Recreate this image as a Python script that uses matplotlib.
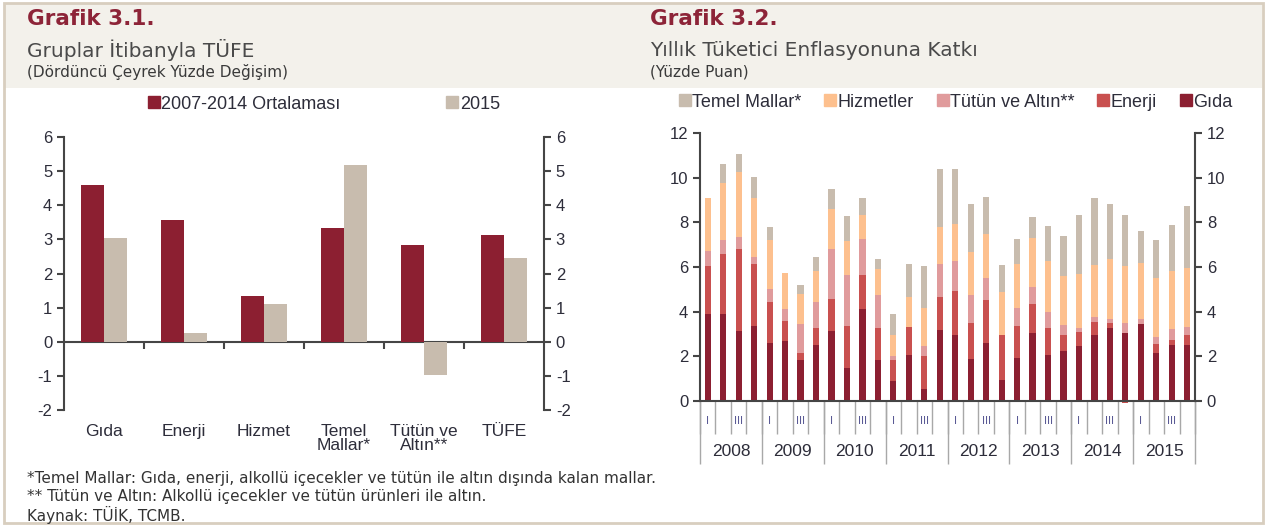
import numpy as np
import matplotlib.pyplot as plt
from matplotlib.patches import Rectangle
from matplotlib.lines import Line2D

plt.rcParams['font.family'] = ['Liberation Sans', 'DejaVu Sans']
plt.rcParams['axes.unicode_minus'] = False

# ---- Grafik 3.1 data
groups = ['Gıda', 'Enerji', 'Hizmet', 'Temel\nMallar*', 'Tütün ve\nAltın**', 'TÜFE']
avg_0714 = [4.58, 3.58, 1.34, 3.34, 2.84, 3.14]
y2015 = [3.04, 0.26, 1.12, 5.18, -0.97, 2.45]

# ---- Grafik 3.2 data (quarterly, 2008Q1 - 2015Q4)
years = ['2008', '2009', '2010', '2011', '2012', '2013', '2014', '2015']
quarters = ['I', '', 'III', '']
gida = [3.88, 3.91, 3.12, 3.36, 2.60, 2.67, 1.85, 2.52,
        3.12, 1.49, 4.10, 1.85, 0.90, 2.07, 0.52, 3.19,
        2.97, 1.90, 2.60, 0.93, 1.93, 3.04, 2.07, 2.24,
        2.45, 2.97, 3.28, 3.06, 3.46, 2.16, 2.52, 2.52]
enerji = [2.16, 2.66, 3.67, 2.76, 1.83, 0.91, 0.31, 0.75,
          1.46, 1.85, 1.56, 1.42, 0.95, 1.24, 1.48, 1.47,
          1.94, 1.59, 1.91, 2.04, 1.41, 1.32, 1.20, 0.73,
          0.64, 0.57, 0.21, -0.10, 0.00, 0.38, 0.23, 0.45]
tutun = [0.66, 0.62, 0.54, 0.31, 0.60, 0.52, 1.30, 1.16,
         2.21, 2.32, 1.58, 1.46, 0.15, 0.00, 0.45, 1.49,
         1.36, 1.24, 1.01, 0.00, 0.84, 0.74, 0.70, 0.45,
         0.19, 0.22, 0.17, 0.43, 0.20, 0.33, 0.46, 0.34]
hizmet = [2.40, 2.57, 2.92, 2.67, 2.16, 1.65, 1.35, 1.38,
          1.82, 1.49, 1.07, 1.17, 0.94, 1.35, 1.73, 1.64,
          1.67, 1.94, 1.97, 1.91, 1.97, 2.21, 2.30, 2.18,
          2.39, 2.34, 2.68, 2.55, 2.52, 2.64, 2.61, 2.66]
temel = [0.00, 0.84, 0.82, 0.93, 0.60, 0.00, 0.37, 0.64,
         0.87, 1.12, 0.79, 0.44, 0.97, 1.49, 1.86, 2.61,
         2.46, 2.17, 1.64, 1.19, 1.09, 0.93, 1.55, 1.77,
         2.67, 3.00, 2.47, 2.30, 1.43, 1.68, 2.08, 2.76]

c_dark = '#8c1f31'
c_tan = '#c8bcae'
c_en = '#c9504f'
c_tut = '#e09b9c'
c_hiz = '#fdc08e'
txt = '#2d2d3a'
axcol = '#454545'

fig = plt.figure(figsize=(12.67, 5.26), dpi=100)
fig.patch.set_facecolor('white')

# frame and header band
fig.patches.append(Rectangle((0.004, 0.832), 0.992, 0.162, transform=fig.transFigure,
                             facecolor='#f3f1eb', edgecolor='none', zorder=0))
fig.patches.append(Rectangle((0.003, 0.006), 0.994, 0.988, transform=fig.transFigure,
                             facecolor='none', edgecolor='#d8cebf', linewidth=2, zorder=1))

def px(x, y):
    return x / 1267, 1 - y / 526

# titles
for x0, t1, t2, t3 in [(27, 'Grafik 3.1.', 'Gruplar İtibanyla TÜFE', '(Dördüncü Çeyrek Yüzde Değişim)'),
                       (650, 'Grafik 3.2.', 'Yıllık Tüketici Enflasyonuna Katkı', '(Yüzde Puan)')]:
    fig.text(*px(x0, 19), t1, fontsize=15.5, fontweight='bold', color='#8d2438', va='center',
             family=['DejaVu Sans'])
    fig.text(*px(x0, 50), t2, fontsize=14.5, color='#4a4a4a', va='center', family=['DejaVu Sans'])
    fig.text(*px(x0, 72), t3, fontsize=11, color='#3a3a3a', va='center', family=['DejaVu Sans'])

# ---------------- left chart
ax1 = fig.add_axes([64 / 1267, 1 - 410 / 526, 480 / 1267, 273 / 526])
x = np.arange(len(groups))
w = 0.29
ax1.bar(x - w / 2, avg_0714, w, color=c_dark, label='2007-2014 Ortalaması', zorder=2)
ax1.bar(x + w / 2, y2015, w, color=c_tan, label='2015', zorder=2)
ax1.set_xlim(-0.5, len(groups) - 0.5)
ax1.set_ylim(-2, 6)
ax1.set_yticks(range(-2, 7))
ax1.spines['top'].set_visible(False)
ax1.spines['bottom'].set_visible(False)
for s in ['left', 'right']:
    ax1.spines[s].set_color(axcol)
    ax1.spines[s].set_linewidth(1.5)
ax1.tick_params(axis='y', which='both', direction='out', length=5, width=1.5, color=axcol,
                labelsize=12, labelcolor=txt, left=True, right=True, labelleft=True, labelright=True)
ax1.set_xticks(x)
ax1.set_xticklabels(groups, fontsize=12.5, color=txt, linespacing=0.95)
ax1.tick_params(axis='x', length=0, pad=10)
for lab in ax1.get_xticklabels():
    lab.set_va('top')
# zero line with category separators
zpos = (0 - (-2)) / 8
sec = ax1.secondary_xaxis(zpos)
sec.set_xticks(np.arange(0.5, len(groups) - 0.5, 1))
sec.tick_params(axis='x', direction='out', length=5, width=1.5, color=axcol, labelbottom=False)
sec.spines['bottom'].set_color(axcol)
sec.spines['bottom'].set_linewidth(1.5)

h1 = [Line2D([], [], marker='s', linestyle='none', markersize=9, color=c_dark),
      Line2D([], [], marker='s', linestyle='none', markersize=9, color=c_tan)]
ax1.legend(h1, ['2007-2014 Ortalaması', '2015'], ncol=2, loc='center', frameon=False,
           bbox_to_anchor=(0.54, 1.12), fontsize=13, handletextpad=0.0, columnspacing=5.8,
           handlelength=0.8, labelcolor=txt)

# ---------------- right chart
ax2 = fig.add_axes([700 / 1267, 1 - 401 / 526, 495 / 1267, 268 / 526])
n = len(gida)
xq = np.arange(n)
bw = 0.4
series = [(gida, c_dark, 'Gıda'), (enerji, c_en, 'Enerji'), (tutun, c_tut, 'Tütün ve Altın**'),
          (hizmet, c_hiz, 'Hizmetler'), (temel, c_tan, 'Temel Mallar*')]
pos_b = np.zeros(n)
neg_b = np.zeros(n)
for vals, col, lab in series:
    v = np.array(vals)
    b = np.where(v >= 0, pos_b, neg_b)
    ax2.bar(xq, v, bw, bottom=b, color=col, label=lab, zorder=2, clip_on=False)
    pos_b += np.where(v > 0, v, 0)
    neg_b += np.where(v < 0, v, 0)
ax2.set_xlim(-0.5, n - 0.5)
ax2.set_ylim(0, 12)
ax2.set_yticks(range(0, 13, 2))
ax2.spines['top'].set_visible(False)
for s in ['left', 'right', 'bottom']:
    ax2.spines[s].set_color(axcol)
    ax2.spines[s].set_linewidth(1.5)
ax2.tick_params(axis='y', direction='out', length=5, width=1.5, color=axcol, labelsize=12,
                labelcolor=txt, left=True, right=True, labelleft=True, labelright=True)
ax2.set_xticks(xq)
ax2.set_xticklabels(quarters * len(years), fontsize=8, color='#5a5a95')
ax2.set_xticks(np.arange(-0.5, n, 1), minor=True)
ax2.tick_params(axis='x', which='major', length=0, pad=11)
ax2.tick_params(axis='x', which='minor', direction='out', length=24, width=1, color='#a8a8a8')

yr = ax2.secondary_xaxis('bottom')
yr.set_xticks(np.arange(-0.5, n + 0.5, 4))
yr.set_xticklabels([])
yr.set_xticks(np.arange(1.5, n, 4), labels=years, minor=True)
yr.tick_params(axis='x', which='major', direction='out', length=45, width=1, color='#a8a8a8')
yr.tick_params(axis='x', which='minor', length=0, pad=31, labelsize=12.5, labelcolor=txt)
yr.spines['bottom'].set_visible(False)

h2 = [Line2D([], [], marker='s', linestyle='none', markersize=9, color=c) for c in
      [c_tan, c_hiz, c_tut, c_en, c_dark]]
ax2.legend(h2, ['Temel Mallar*', 'Hizmetler', 'Tütün ve Altın**', 'Enerji', 'Gıda'], ncol=5,
           loc='center', frameon=False, bbox_to_anchor=(0.515, 1.115), fontsize=13,
           handletextpad=0.0, columnspacing=1.2, handlelength=0.8, labelcolor=txt)

# footnotes
notes = ['*Temel Mallar: Gıda, enerji, alkollü içecekler ve tütün ile altın dışında kalan mallar.',
         '** Tütün ve Altın: Alkollü içecekler ve tütün ürünleri ile altın.',
         'Kaynak: TÜİK, TCMB.']
for i, t in enumerate(notes):
    fig.text(*px(27, 479 + 18 * i), t, fontsize=11, color='#333333', va='center',
             family=['DejaVu Sans'])

fig.savefig('out.png', dpi=100)
